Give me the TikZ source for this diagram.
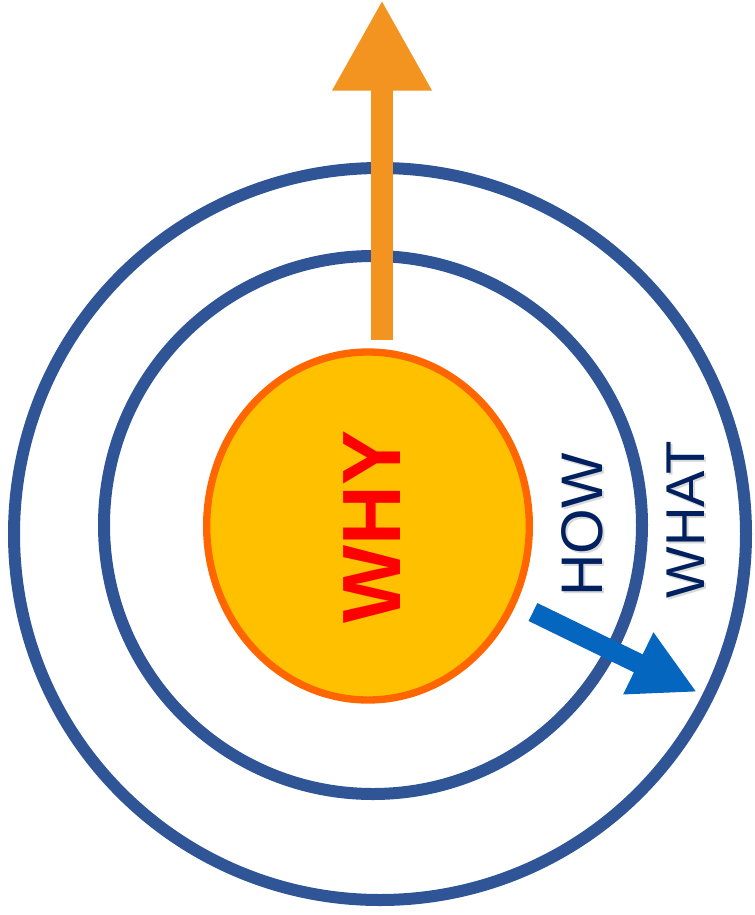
\documentclass[tikz,border=0pt]{standalone}
\usepackage{fontspec}
\setmainfont{Liberation Sans}
\usetikzlibrary{arrows.meta,shapes.geometric}
\definecolor{ringblue}{HTML}{2F5597}
\definecolor{arroworange}{HTML}{F39420}
\definecolor{arrowblue}{HTML}{0566C0}
\definecolor{whyfill}{HTML}{FFC000}
\definecolor{whyborder}{HTML}{FF6600}
\definecolor{navy}{HTML}{002060}
\tikzset{
  ring/.style={draw=ringblue, line width=9pt},
  core/.style={ellipse, draw=whyborder, fill=whyfill, line width=5.5pt, minimum width=242pt, minimum height=261pt, inner sep=0pt},
  bigarrow/.style={arroworange, line width=16.5pt, -{Triangle[length=68pt,width=70pt]}},
  smallarrow/.style={arrowblue, line width=15pt, -{Triangle[length=49pt,width=48pt]}},
  ringlabel/.style={text=navy, font=\fontsize{44}{44}\selectfont, rotate=90, inner sep=0pt},
}
\begin{document}
\begin{tikzpicture}[x=0.75pt,y=-0.75pt]
\useasboundingbox (0,0) rectangle (755,915);
\draw[ring] (380,534) circle[radius=366*0.75pt];
\draw[ring] (373,525) circle[radius=269*0.75pt];
\node[core] (why) at (368,526) {};
\node[text=red, rotate=90, inner sep=0pt, font=\bfseries\fontsize{62}{62}\selectfont] (whytext) at (372,527) {WHY};
\coordinate (oa) at (382,340);
\coordinate (ob) at (382,0);
\draw[bigarrow] (oa) -- (ob);
\coordinate (ba) at (533,612);
\coordinate (bb) at (697,692);
\draw[smallarrow] (ba) -- (bb);
\node[ringlabel, text=gray!30] at (584,527) {HOW};
\node[ringlabel] (how) at (582,525) {HOW};
\node[ringlabel, font=\fontsize{41}{41}\selectfont, text=gray!30] at (688,522) {WHAT};
\node[ringlabel, font=\fontsize{41}{41}\selectfont] (what) at (686,520) {WHAT};
\end{tikzpicture}
\end{document}
